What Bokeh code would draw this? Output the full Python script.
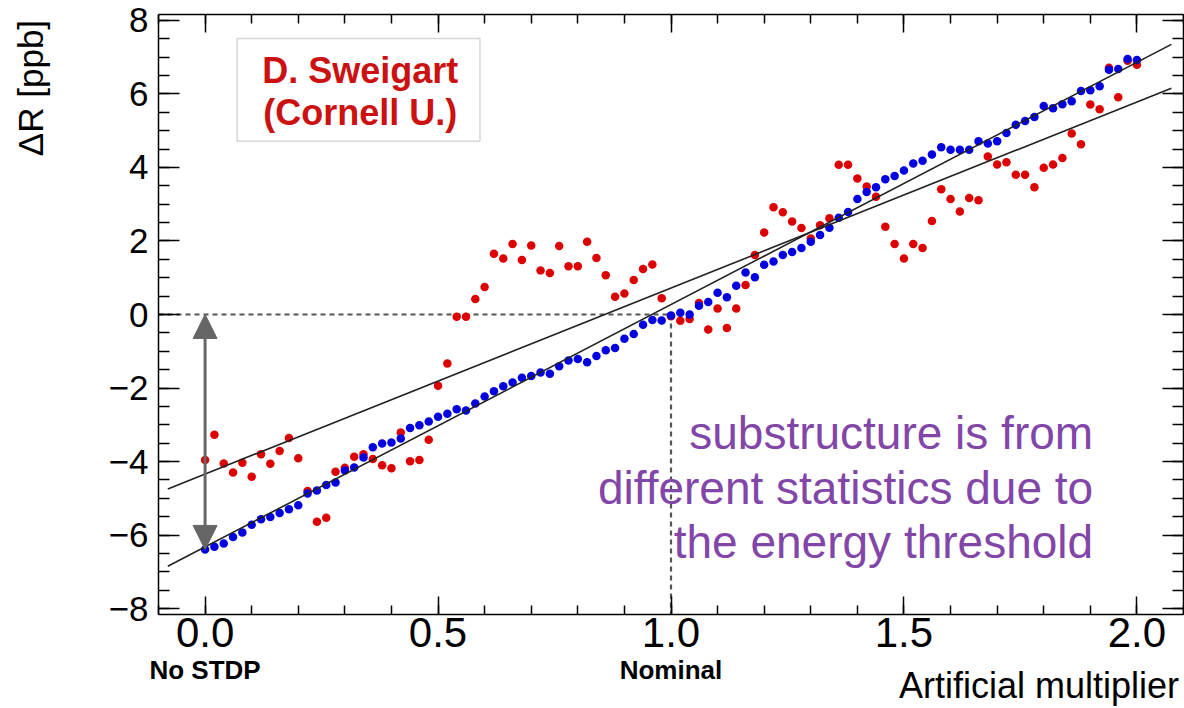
import numpy as np
from bokeh.plotting import figure
from bokeh.models import (LinearAxis, SingleIntervalTicker, FixedTicker, Range1d, Label,
                          BoxAnnotation, Arrow, NormalHead, PrintfTickFormatter,
                          CustomJSTickFormatter)
from bokeh.embed import file_html
from bokeh.resources import INLINE

# ---------------- data ----------------
multiplier = [0.00, 0.02, 0.04, 0.06, 0.08, 0.10, 0.12, 0.14, 0.16, 0.18,
              0.20, 0.22, 0.24, 0.26, 0.28, 0.30, 0.32, 0.34, 0.36, 0.38,
              0.40, 0.42, 0.44, 0.46, 0.48, 0.50, 0.52, 0.54, 0.56, 0.58,
              0.60, 0.62, 0.64, 0.66, 0.68, 0.70, 0.72, 0.74, 0.76, 0.78,
              0.80, 0.82, 0.84, 0.86, 0.88, 0.90, 0.92, 0.94, 0.96, 0.98,
              1.00, 1.02, 1.04, 1.06, 1.08, 1.10, 1.12, 1.14, 1.16, 1.18,
              1.20, 1.22, 1.24, 1.26, 1.28, 1.30, 1.32, 1.34, 1.36, 1.38,
              1.40, 1.42, 1.44, 1.46, 1.48, 1.50, 1.52, 1.54, 1.56, 1.58,
              1.60, 1.62, 1.64, 1.66, 1.68, 1.70, 1.72, 1.74, 1.76, 1.78,
              1.80, 1.82, 1.84, 1.86, 1.88, 1.90, 1.92, 1.94, 1.96, 1.98,
              2.00]

delta_r_blue = [-6.39, -6.32, -6.23, -6.05, -5.93, -5.72, -5.57, -5.51, -5.40, -5.30,
                -5.19, -4.87, -4.79, -4.64, -4.57, -4.24, -4.16, -3.89, -3.61, -3.51,
                -3.48, -3.37, -3.09, -3.01, -2.91, -2.78, -2.70, -2.58, -2.61, -2.42,
                -2.23, -2.09, -1.95, -1.85, -1.72, -1.67, -1.58, -1.61, -1.41, -1.25,
                -1.21, -1.30, -1.13, -0.97, -0.91, -0.66, -0.53, -0.28, -0.15, -0.16,
                -0.03, 0.05, 0.00, 0.24, 0.34, 0.59, 0.47, 0.78, 1.14, 1.01,
                1.35, 1.44, 1.62, 1.70, 1.81, 1.98, 2.16, 2.36, 2.63, 2.79,
                3.14, 3.33, 3.46, 3.68, 3.77, 3.92, 4.11, 4.18, 4.35, 4.55,
                4.48, 4.48, 4.48, 4.71, 4.65, 4.71, 4.94, 5.16, 5.26, 5.37,
                5.67, 5.61, 5.72, 5.80, 6.08, 6.10, 6.21, 6.66, 6.68, 6.95,
                6.92]

delta_r_red = [-3.96, -3.27, -4.05, -4.30, -4.03, -4.41, -3.80, -4.06, -3.71, -3.36,
               -3.91, -4.80, -5.64, -5.53, -4.28, -4.17, -3.87, -3.80, -3.93, -4.10,
               -4.18, -3.21, -3.99, -3.96, -3.41, -1.94, -1.33, -0.06, -0.06, 0.42,
               0.75, 1.65, 1.52, 1.92, 1.48, 1.88, 1.20, 1.13, 1.86, 1.31,
               1.31, 1.98, 1.54, 1.07, 0.48, 0.57, 0.94, 1.24, 1.36, 0.44,
               -0.05, -0.17, -0.12, 0.31, -0.41, 0.16, -0.37, 0.16, 0.80, 1.62,
               2.23, 2.92, 2.78, 2.53, 2.35, 2.07, 2.43, 2.62, 4.07, 4.07,
               3.70, 3.48, 3.20, 2.39, 1.92, 1.52, 1.92, 1.81, 2.54, 3.41,
               3.14, 2.80, 3.17, 3.11, 4.30, 4.08, 4.14, 3.80, 3.80, 3.46,
               3.99, 4.08, 4.26, 4.92, 4.63, 5.71, 5.58, 6.71, 5.91, 6.90,
               6.79]

fit_range = [-0.08, 2.074]
fit_blue_slope, fit_blue_intercept = 6.59, -6.32
fit_red_slope, fit_red_intercept = 5.06, -4.34

x_tick_interval = 0.5
y_ticks = [-8, -6, -4, -2, 0, 2, 4, 6, 8]
y_tick_labels = ["\u22128", "\u22126", "\u22124", "\u22122", "0", "2", "4", "6", "8"]
nominal = 1.0
special_ticks = [0, 1]
special_labels = ["No STDP", "Nominal"]
note_lines = ["substructure is from", "different statistics due to", "the energy threshold"]
author_lines = ["D. Sweigart", "(Cornell U.)"]
x_title = "Artificial multiplier"
y_title = "\u0394R [ppb]"

FONT = "Liberation Sans"
RED = "#dd0000"
BLUE = "#0000e0"
PURPLE = "#8246a8"

x_lo, x_hi = -0.1, 2.1
y_lo, y_hi = -8.16, 8.16

p = figure(width=1184, height=708, x_range=Range1d(x_lo, x_hi), y_range=Range1d(y_lo, y_hi),
           output_backend="svg", toolbar_location=None,
           min_border_left=158, min_border_right=1, min_border_top=14, min_border_bottom=94,
           background_fill_color="white", border_fill_color="white")
p.grid.visible = False
p.outline_line_color = None

blank = CustomJSTickFormatter(code="return ''")


def style_axis(ax, interval, nminor, major_len, minor_len, font_size=None):
    ax.ticker = SingleIntervalTicker(interval=interval, num_minor_ticks=nminor)
    ax.axis_line_color = "black"
    ax.axis_line_width = 1.5
    ax.major_tick_in = major_len
    ax.major_tick_out = 0
    ax.minor_tick_in = minor_len
    ax.minor_tick_out = 0
    ax.major_tick_line_color = "black"
    ax.major_tick_line_width = 1.5
    ax.minor_tick_line_color = "black"
    ax.minor_tick_line_width = 1.5
    if font_size:
        ax.major_label_text_font = FONT
        ax.major_label_text_font_size = font_size
        ax.major_label_text_color = "black"
    else:
        ax.formatter = blank
        ax.major_label_standoff = 0


def text_axis(tick, formatter, size, standoff, bold=False):
    ax = LinearAxis(ticker=FixedTicker(ticks=list(tick), minor_ticks=[]), formatter=formatter)
    ax.axis_line_color = None
    ax.major_tick_line_color = None
    ax.minor_tick_line_color = None
    ax.major_tick_in = 0
    ax.major_tick_out = 0
    ax.major_label_standoff = standoff
    ax.major_label_text_font = FONT
    ax.major_label_text_font_size = size
    ax.major_label_text_font_style = "bold" if bold else "normal"
    ax.major_label_text_color = "black"
    return ax


xb = p.xaxis[0]
style_axis(xb, x_tick_interval, 5, 18, 9, "42px")
xb.formatter = PrintfTickFormatter(format="%.1f")
xb.major_label_standoff = 3

yl = p.yaxis[0]
style_axis(yl, 2, 4, 21, 11, "35px")
yl.major_label_overrides = dict(zip(y_ticks, y_tick_labels))
yl.major_label_standoff = 10

xt = LinearAxis()
style_axis(xt, x_tick_interval, 5, 18, 9)
p.add_layout(xt, "above")
yr = LinearAxis()
style_axis(yr, 2, 4, 21, 11)
p.add_layout(yr, "right")

# second row of x labels: "No STDP", "Nominal"
xs = text_axis(special_ticks, PrintfTickFormatter(format="%.1f"), "26px", 5, bold=True)
xs.major_label_overrides = dict(zip(special_ticks, special_labels))
p.add_layout(xs, "below")

# axis titles (ROOT style: at the end of the axes)
x_title_pos = [1.79]
xtitle = text_axis(x_title_pos, CustomJSTickFormatter(args=dict(t=x_title), code="return t"),
                   "36px", -23)
p.add_layout(xtitle, "below")

y_title_pos = [6.16]
ytitle = text_axis(y_title_pos, CustomJSTickFormatter(args=dict(t=y_title), code="return t"),
                   "35px", 55)
ytitle.major_label_orientation = "vertical"
p.add_layout(ytitle, "left")

# reference dashed lines at nominal
p.line(x=[x_lo, nominal], y=[0, 0], line_color="#555555", line_width=2.2, line_dash="5 4")
p.line(x=[nominal, nominal], y=[0, y_lo], line_color="#555555", line_width=2.2, line_dash="5 4")

# data points
p.scatter(x=multiplier, y=delta_r_red, size=8.5, fill_color=RED, line_color=None)
p.scatter(x=multiplier, y=delta_r_blue, size=8.5, fill_color=BLUE, line_color=None)

# fit lines
fx = np.array(fit_range)
p.line(x=fx, y=fit_blue_intercept + fit_blue_slope * fx, line_color="#222222", line_width=1.6)
p.line(x=fx, y=fit_red_intercept + fit_red_slope * fx, line_color="#222222", line_width=1.6)

# double arrow
head = dict(size=24, fill_color="#666666", line_color="#666666")
p.add_layout(Arrow(start=NormalHead(**head), end=NormalHead(**head),
                   x_start=0, y_start=delta_r_blue[0], x_end=0, y_end=0,
                   line_color="#666666", line_width=3))

# author box
p.add_layout(BoxAnnotation(left=0.0687, right=0.590, top=7.51, bottom=4.71,
                           fill_color="white", fill_alpha=1.0,
                           line_color="#777777", line_width=1.5, level="overlay"))
for txt, yy in zip(author_lines, [6.64, 5.50]):
    p.add_layout(Label(x=0.333, y=yy, text=txt, text_font=FONT, text_font_size="36px",
                       text_font_style="bold", text_color="#cc1111",
                       text_align="center", text_baseline="middle", level="overlay"))

# note
for txt, yy in zip(note_lines, [-3.21, -4.71, -6.18]):
    p.add_layout(Label(x=1.906, y=yy, text=txt, text_font=FONT, text_font_size="46px",
                       text_color=PURPLE, text_align="right", text_baseline="middle"))

open("out.html", "w").write(file_html(p, INLINE))
